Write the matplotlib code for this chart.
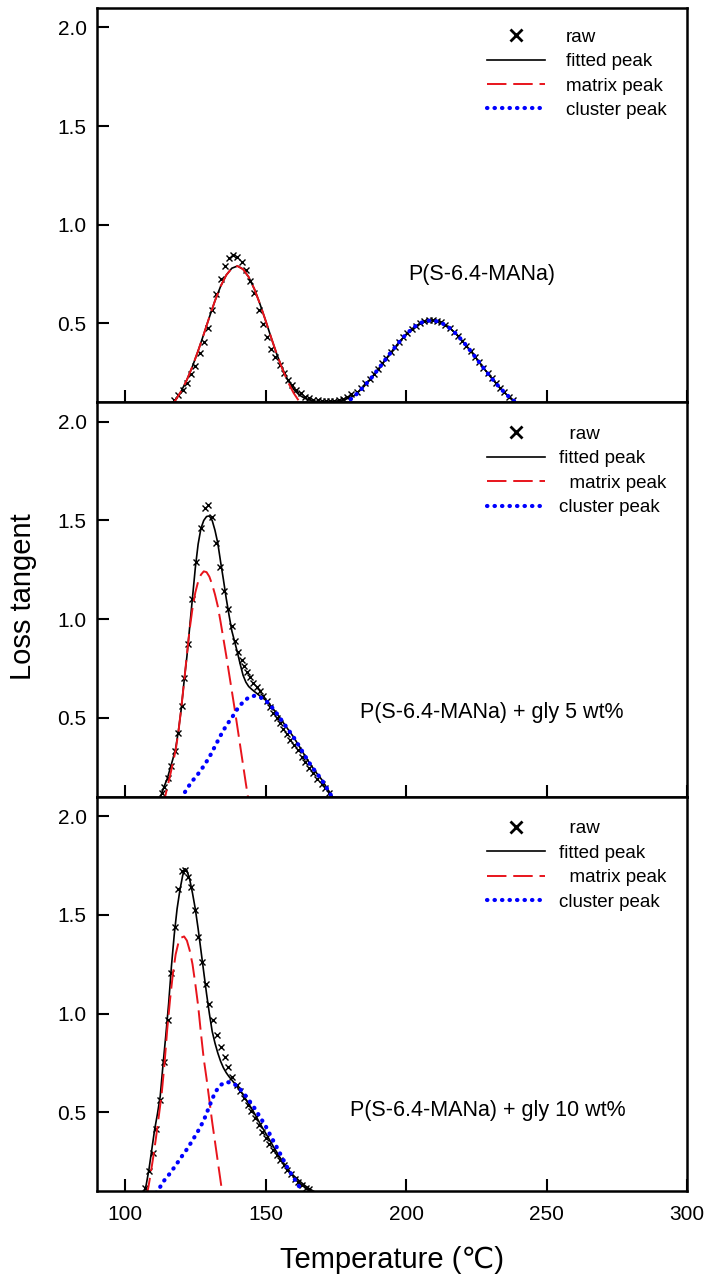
import matplotlib
matplotlib.use("Agg")
import matplotlib.pyplot as plt

plt.rcParams['font.family'] = ['Liberation Sans', 'DejaVu Sans']

# ---------------- panel 1 : P(S-6.4-MANa) ----------------
raw1_x = [117.5, 119, 120.5, 122, 123.5, 125, 126.5, 128, 129.5, 131, 132.5, 134, 135.5, 137,
          138.5, 140, 141.5, 143, 144.5, 146, 147.5, 149, 150.5, 152, 153.5, 155, 156.5, 158,
          159.5, 161, 162.5, 164, 165.5, 167, 168.5, 170, 171.5, 173, 174.5, 176, 177.5, 179,
          180.5, 182.5, 184, 185.5, 187, 188.5, 190, 191.5, 193, 194.5, 196, 197.5, 199, 200.5,
          202, 203.5, 205, 206.5, 208, 209.5, 211, 212.5, 214, 215.5, 217, 218.5, 220, 221.5,
          223, 224.5, 226, 227.5, 229, 230.5, 232, 233.5, 235, 236.5, 238]
raw1_y = [0.113, 0.138, 0.162, 0.198, 0.245, 0.285, 0.348, 0.405, 0.475, 0.565, 0.650, 0.725,
          0.790, 0.830, 0.846, 0.838, 0.812, 0.770, 0.715, 0.652, 0.565, 0.497, 0.432, 0.368,
          0.330, 0.290, 0.247, 0.211, 0.185, 0.163, 0.144, 0.128, 0.119, 0.113, 0.109, 0.106,
          0.104, 0.104, 0.106, 0.110, 0.117, 0.127, 0.139, 0.152, 0.173, 0.195, 0.219, 0.244,
          0.270, 0.297, 0.325, 0.352, 0.380, 0.405, 0.429, 0.451, 0.471, 0.487, 0.500, 0.509,
          0.514, 0.515, 0.511, 0.504, 0.492, 0.477, 0.458, 0.436, 0.412, 0.387, 0.359, 0.331,
          0.303, 0.275, 0.247, 0.220, 0.195, 0.171, 0.149, 0.128, 0.110]
fit1_x = [116, 118, 120, 122, 124, 126, 128, 130, 132, 134, 136, 138, 140, 142, 144, 146, 148,
          150, 152, 154, 156, 158, 160, 162, 164, 166, 168, 170, 172, 174, 176, 178, 180, 182,
          185, 188, 191, 194, 197, 200, 203, 206, 209, 212, 215, 218, 221, 224, 227, 230, 233,
          236, 239, 242]
fit1_y = [0.076, 0.111, 0.156, 0.213, 0.282, 0.360, 0.444, 0.531, 0.614, 0.687, 0.744, 0.779,
          0.790, 0.774, 0.734, 0.674, 0.598, 0.514, 0.427, 0.343, 0.270, 0.210, 0.165, 0.136,
          0.119, 0.109, 0.104, 0.102, 0.101, 0.103, 0.107, 0.113, 0.122, 0.137, 0.179, 0.229,
          0.284, 0.341, 0.395, 0.444, 0.482, 0.507, 0.515, 0.507, 0.482, 0.444, 0.395, 0.341,
          0.284, 0.229, 0.179, 0.135, 0.099, 0.070]
mat1_x = [116, 118, 120, 122, 124, 126, 128, 130, 132, 134, 136, 138, 140, 142, 144, 146, 148,
          150, 152, 154, 156, 158, 160, 162, 164]
mat1_y = [0.076, 0.111, 0.156, 0.213, 0.282, 0.360, 0.444, 0.531, 0.614, 0.687, 0.744, 0.779,
          0.790, 0.774, 0.734, 0.674, 0.598, 0.514, 0.427, 0.343, 0.267, 0.201, 0.146, 0.103,
          0.070]
clu1_x = [176, 179, 182, 185, 188, 191, 194, 197, 200, 203, 206, 209, 212, 215, 218, 221, 224,
          227, 230, 233, 236, 239, 242]
clu1_y = [0.070, 0.099, 0.135, 0.179, 0.229, 0.284, 0.341, 0.395, 0.444, 0.482, 0.507, 0.515,
          0.507, 0.482, 0.444, 0.395, 0.341, 0.284, 0.229, 0.179, 0.135, 0.099, 0.070]

# ---------------- panel 2 : + gly 5 wt% ----------------
raw2_x = [113.0, 113.8, 115.4, 116.2, 117.8, 118.9, 120.1, 121.1, 122.5, 123.9, 125.1, 126.9,
          128.4, 129.6, 130.8, 132.2, 133.8, 135.2, 136.7, 137.9, 139.3, 140.3, 141.5, 142.4,
          143.5, 144.4, 145.6, 146.8, 148.0, 149.2, 150.4, 151.6, 152.8, 154.0, 155.1, 156.3,
          157.5, 158.7, 160.1, 161.4, 162.8, 164.0, 165.6, 167.0, 168.4, 170.0, 171.1, 172.7]
raw2_y = [0.119, 0.149, 0.195, 0.254, 0.330, 0.423, 0.559, 0.702, 0.872, 1.103, 1.290, 1.464,
          1.565, 1.577, 1.519, 1.388, 1.266, 1.142, 1.049, 0.965, 0.888, 0.833, 0.795, 0.762,
          0.731, 0.707, 0.677, 0.657, 0.635, 0.609, 0.584, 0.553, 0.525, 0.499, 0.474, 0.443,
          0.415, 0.389, 0.364, 0.335, 0.301, 0.274, 0.245, 0.220, 0.191, 0.166, 0.144, 0.119]
fit2_x = [112, 113, 114, 115, 116, 117, 118, 119, 120, 121, 122, 123, 124, 125, 126, 127, 128,
          129, 130, 131, 132, 133, 134, 135, 136, 137, 138, 139, 140, 141, 142, 143, 144, 145,
          146, 147, 148, 150, 152, 154, 156, 158, 160, 162, 164, 166, 168, 170, 172, 174]
fit2_y = [0.070, 0.115, 0.155, 0.190, 0.240, 0.290, 0.345, 0.435, 0.545, 0.685, 0.810, 0.960,
          1.110, 1.260, 1.380, 1.460, 1.500, 1.520, 1.523, 1.500, 1.450, 1.385, 1.290, 1.200,
          1.105, 1.020, 0.940, 0.885, 0.830, 0.770, 0.715, 0.680, 0.658, 0.645, 0.633, 0.622,
          0.610, 0.590, 0.558, 0.521, 0.481, 0.441, 0.401, 0.355, 0.307, 0.262, 0.222, 0.186,
          0.140, 0.095]
mat2_x = [113, 114, 115, 116, 117, 118, 119, 120, 121, 122, 123, 124, 125, 126, 127, 128, 129,
          130, 131, 132, 133, 134, 135, 136, 137, 138, 139, 140, 141, 142, 143, 144]
mat2_y = [0.040, 0.085, 0.145, 0.205, 0.270, 0.335, 0.430, 0.550, 0.680, 0.820, 0.950, 1.055,
          1.135, 1.190, 1.225, 1.242, 1.238, 1.215, 1.175, 1.125, 1.065, 0.985, 0.900, 0.815,
          0.725, 0.635, 0.545, 0.450, 0.355, 0.260, 0.165, 0.075]
clu2_x = [120, 122, 124, 126, 128, 130, 132, 134, 136, 138, 140, 142, 144, 146, 148, 150, 152,
          154, 156, 158, 160, 162, 164, 166, 168, 170, 172, 174]
clu2_y = [0.090, 0.140, 0.180, 0.215, 0.255, 0.300, 0.355, 0.410, 0.460, 0.500, 0.545, 0.580,
          0.603, 0.611, 0.605, 0.588, 0.558, 0.521, 0.481, 0.441, 0.401, 0.355, 0.307, 0.262,
          0.222, 0.186, 0.138, 0.090]

# ---------------- panel 3 : + gly 10 wt% ----------------
raw3_x = [107.1, 108.5, 109.8, 111.1, 112.4, 113.9, 115.3, 116.5, 117.7, 119.0, 120.3, 121.3,
          122.3, 123.3, 124.9, 126.1, 127.3, 128.8, 130.0, 131.4, 132.8, 134.0, 135.6, 136.8,
          138.2, 139.7, 141.0, 142.3, 143.6, 144.9, 146.2, 147.5, 148.8, 150.1, 151.4, 152.7,
          154.0, 155.2, 156.5, 157.8, 159.1, 160.4, 161.7, 163.0, 164.3, 165.6]
raw3_y = [0.114, 0.200, 0.291, 0.417, 0.564, 0.755, 0.966, 1.206, 1.440, 1.632, 1.725, 1.729,
          1.690, 1.644, 1.523, 1.388, 1.261, 1.151, 1.050, 0.966, 0.890, 0.831, 0.780, 0.728,
          0.679, 0.637, 0.605, 0.572, 0.537, 0.505, 0.470, 0.435, 0.398, 0.368, 0.338, 0.310,
          0.282, 0.257, 0.233, 0.206, 0.184, 0.161, 0.145, 0.133, 0.118, 0.108]
fit3_x = [106.5, 107.5, 108.5, 109.5, 110.5, 111.5, 112.5, 113.5, 114.5, 115.5, 116.5, 117.5,
          118.5, 119.5, 120.5, 121.3, 122, 123, 124, 125, 126, 127, 128, 129, 130, 131, 132,
          133, 134, 135, 136, 137, 138, 139, 140, 141, 142, 143, 144, 145, 146, 147, 148, 149,
          150, 151, 152, 153, 154, 155, 156, 157, 158, 159, 160, 161, 162, 163, 164, 165, 166,
          167, 168]
fit3_y = [0.080, 0.130, 0.210, 0.310, 0.410, 0.490, 0.580, 0.740, 0.890, 1.050, 1.240, 1.400,
          1.530, 1.625, 1.700, 1.734, 1.725, 1.680, 1.610, 1.530, 1.430, 1.320, 1.210, 1.100,
          1.000, 0.910, 0.850, 0.800, 0.758, 0.725, 0.700, 0.680, 0.663, 0.645, 0.627, 0.608,
          0.588, 0.565, 0.542, 0.519, 0.495, 0.469, 0.443, 0.418, 0.394, 0.370, 0.345, 0.320,
          0.297, 0.273, 0.250, 0.230, 0.210, 0.193, 0.178, 0.165, 0.152, 0.140, 0.128, 0.117,
          0.108, 0.100, 0.092]
mat3_x = [107.5, 108.3, 109, 110, 111, 112, 113, 114, 115, 116, 117, 118, 119, 120, 121, 122,
          123, 124, 125, 126, 127, 128, 129, 130, 131, 132, 133, 134, 134.5, 135]
mat3_y = [0.070, 0.120, 0.180, 0.270, 0.370, 0.480, 0.590, 0.740, 0.920, 1.070, 1.200, 1.300,
          1.360, 1.385, 1.391, 1.370, 1.320, 1.250, 1.150, 1.040, 0.900, 0.770, 0.670, 0.560,
          0.450, 0.350, 0.250, 0.150, 0.100, 0.060]
clu3_x = [111, 112, 114, 116, 118, 120, 122, 124, 126, 128, 130, 132, 134, 136, 138, 140, 142,
          144, 146, 148, 150, 152, 154, 156, 158, 160, 162, 163]
clu3_y = [0.090, 0.110, 0.155, 0.190, 0.230, 0.272, 0.312, 0.357, 0.405, 0.458, 0.530, 0.600,
          0.638, 0.653, 0.649, 0.632, 0.600, 0.562, 0.522, 0.476, 0.430, 0.375, 0.322, 0.268,
          0.212, 0.168, 0.122, 0.100]

panels = [
    (raw1_x, raw1_y, fit1_x, fit1_y, mat1_x, mat1_y, clu1_x, clu1_y),
    (raw2_x, raw2_y, fit2_x, fit2_y, mat2_x, mat2_y, clu2_x, clu2_y),
    (raw3_x, raw3_y, fit3_x, fit3_y, mat3_x, mat3_y, clu3_x, clu3_y),
]
sample_labels = ['P(S-6.4-MANa)', 'P(S-6.4-MANa) + gly 5 wt%', 'P(S-6.4-MANa) + gly 10 wt%']
label_pos = [(200.7, 0.748), (183.6, 0.526), (180.0, 0.506)]
legend_labels = [['raw', 'fitted peak', 'matrix peak', 'cluster peak'],
                 ['  raw', 'fitted peak', '  matrix peak', 'cluster peak'],
                 ['  raw', 'fitted peak', '  matrix peak', 'cluster peak']]
legend_pad = [1.1, 0.75, 0.75]
legend_top = [0.947, 0.940, 0.940]

fig = plt.figure(figsize=(7.10, 12.77), dpi=100)
h = 0.3089
bottoms = [0.6851, 0.3762, 0.0673]

for i, (rx, ry, fx, fy, mx, my, cx, cy) in enumerate(panels):
    ax = fig.add_axes([0.1366, bottoms[i], 0.831, h])
    l0, = ax.plot(rx, ry, linestyle='none', marker='x', color='black', markersize=5,
                  markeredgewidth=1.0)
    l1, = ax.plot(fx, fy, color='black', linewidth=1.2)
    l2, = ax.plot(mx, my, color='#e8141c', linewidth=1.4, linestyle=(0, (10, 3.5)))
    l3, = ax.plot(cx, cy, color='#0000ff', linewidth=3, linestyle=(0, (0.1, 1.7)),
                  dash_capstyle='round')
    ax.set_xlim(90, 300)
    ax.set_ylim(0.1, 2.1)
    ax.set_xticks([100, 150, 200, 250, 300])
    ax.set_yticks([0.5, 1.0, 1.5, 2.0])
    ax.tick_params(direction='in', length=8.5, width=1.5, labelsize=15, pad=7.5,
                   top=False, right=False)
    ax.tick_params(axis='x', pad=10)
    for s in ax.spines.values():
        s.set_linewidth(1.8)
    if i < 2:
        ax.tick_params(axis='x', labelbottom=False)
    ax.text(label_pos[i][0], label_pos[i][1], sample_labels[i], fontsize=15.5,
            ha='left', va='center')
    leg = ax.legend([l0, l1, l2, l3], legend_labels[i], loc='upper left',
                    bbox_to_anchor=(0.661, legend_top[i]), frameon=False, fontsize=13.5,
                    handlelength=3.1, handletextpad=legend_pad[i], labelspacing=0.39,
                    borderpad=0, borderaxespad=0, numpoints=1)
    leg.legend_handles[0].set_markersize(8)
    leg.legend_handles[0].set_markeredgewidth(2)

fig.text(23 / 710, 0.5325, 'Loss tangent', fontsize=21, rotation=90, ha='center', va='center')
fig.text(392 / 710, 0.0133, 'Temperature (\u2103)', fontsize=21, ha='center', va='center')

fig.savefig('out.png', dpi=100)
